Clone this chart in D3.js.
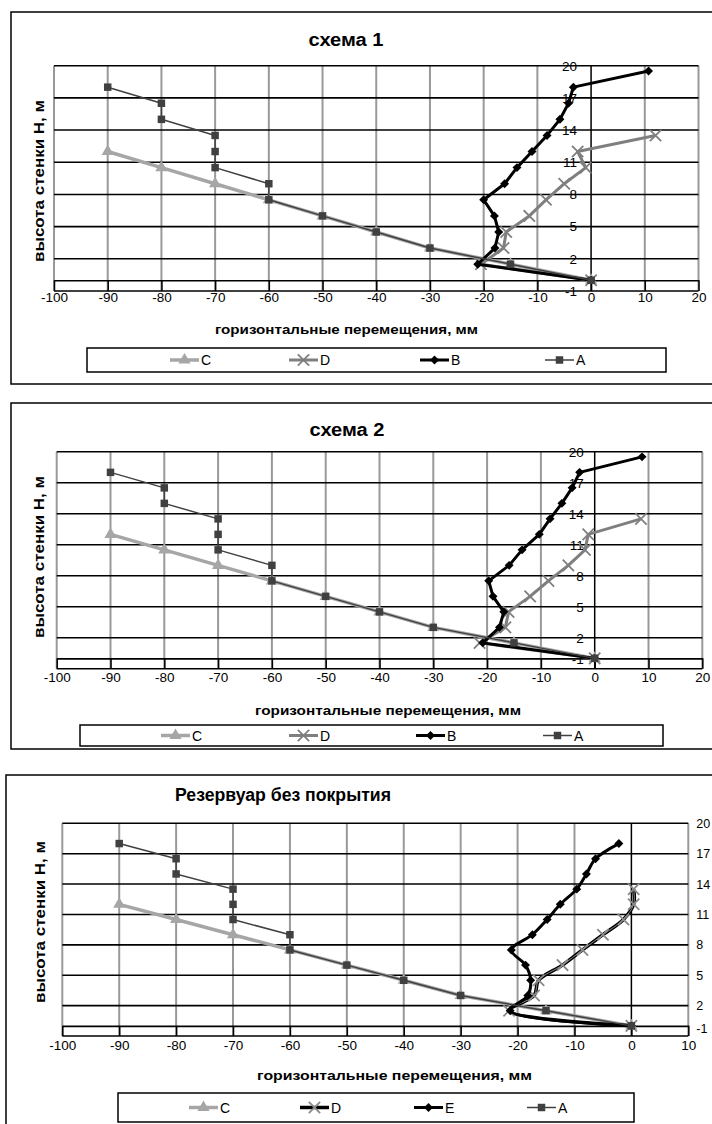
<!DOCTYPE html>
<html>
<head>
<meta charset="utf-8">
<script src="https://cdn.jsdelivr.net/npm/d3@7"></script>
<style>
    body { margin: 0; background: #fff; }
    svg { display: block; font-family: Arial, "Liberation Sans", sans-serif; }
</style>
</head>
<body>
<div id="chart"></div>
<script>
// heights along the wall, m
const heightsA = [18, 16.5, 15, 13.5, 12, 10.5, 9, 7.5, 6, 4.5, 3, 1.5, 0];
const heightsB = [19.5, 18, 16.5, 15, 13.5, 12, 10.5, 9, 7.5, 6, 4.5, 3, 1.5, 0];
const heightsC = [12, 10.5, 9, 7.5, 6, 4.5, 3, 1.5, 0];
const heightsD = [13.5, 12, 10.5, 9, 7.5, 6, 4.5, 3, 1.5, 0];
const heightsE = [18, 16.5, 15, 13.5, 12, 10.5, 9, 7.5, 6, 4.5, 3, 1.5, 0];

// horizontal displacements, mm
const dispA = [-90, -80, -80, -70, -70, -70, -60, -60, -50, -40, -30, -15, 0];
const dispC = [-90, -80, -70, -60, -50, -40, -30, -15, 0];
const dispB1 = [10.7, -3.3, -4.2, -5.8, -8.2, -11, -13.8, -16.1, -20, -18, -17.2, -17.9, -21.1, 0];
const dispD1 = [12, -2.5, -1, -5, -8.4, -11.5, -15.8, -16.3, -20.5, 0];
const dispB2 = [8.8, -2.8, -4.2, -6.1, -8.3, -10.3, -13.5, -15.9, -19.7, -18.9, -16.9, -17.7, -20.8, 0];
const dispD2 = [8.6, -1.2, -1.8, -4.9, -8.6, -12, -16, -16.6, -21.4, 0];
const dispE3 = [-2.2, -6.3, -7.9, -9.6, -12.5, -14.8, -17.4, -21.1, -18.6, -17.7, -18.2, -21.3, 0];
const dispD3 = [0.4, 0.4, -1.4, -5, -8.6, -12.1, -16.3, -17.1, -21.5, 0];

const yTicks = [-1, 2, 5, 8, 11, 14, 17, 20];
const xTicksWide = [-100, -90, -80, -70, -60, -50, -40, -30, -20, -10, 0, 10, 20];
const xTicksNarrow = [-100, -90, -80, -70, -60, -50, -40, -30, -20, -10, 0, 10];

const titles = ["схема 1", "схема 2", "Резервуар без покрытия"];
const xTitle = "горизонтальные перемещения, мм";
const yTitle = "высота стенки Н, м";

const zip = (xs, hs) => xs.map((v, i) => ({ x: v, h: hs[i] }));
const plain = d => String(d); // keep ASCII hyphen like the original

const styles = {
    C: { color: "#a6a6a6", width: 3.5, mark: "triangle" },
    D: { color: "#7f7f7f", width: 3, mark: "x" },
    B: { color: "#000", width: 3, mark: "diamond" },
    E: { color: "#000", width: 3, mark: "diamond" },
    A: { color: "#404040", width: 1.5, mark: "square" },
    D3: { color: "#000", width: 3.5, mark: "x", inner: "#8a8a8a" }
};

const charts = [
    {
        title: titles[0], titleX: 346, titleY: 46, titleLen: 75, titleAnchor: "middle",
        frame: [11, 12, 720, 384],
        left: 54, right: 698.5, top: 65.7, bottom: 291,
        xTicks: xTicksWide, xPad: 1, yLabelsRight: false, yPad: 14, yFont: 13.5, minusOneShift: 0,
        xTitleX: 346.5, xTitleY: 334, xTitleLen: 263,
        yTitleX: 39, yTitleY: 181,
        legend: [87, 348, 579, 24], legendX: [170, 289, 420, 545],
        series: [
            { name: "C", s: "C", data: zip(dispC, heightsC) },
            { name: "D", s: "D", data: zip(dispD1, heightsD) },
            { name: "B", s: "B", data: zip(dispB1, heightsB) },
            { name: "A", s: "A", data: zip(dispA, heightsA) }
        ]
    },
    {
        title: titles[1], titleX: 347, titleY: 436, titleLen: 75, titleAnchor: "middle",
        frame: [11, 403, 720, 749],
        left: 56.7, right: 702.3, top: 451.7, bottom: 668.7,
        xTicks: xTicksWide, xPad: 3.6, yLabelsRight: false, yPad: 11, yFont: 13.5, minusOneShift: -10,
        xTitleX: 388, xTitleY: 715, xTitleLen: 266,
        yTitleX: 39, yTitleY: 557,
        legend: [80, 725, 583, 21], legendX: [161, 289, 416, 543],
        series: [
            { name: "C", s: "C", data: zip(dispC, heightsC) },
            { name: "D", s: "D", data: zip(dispD2, heightsD) },
            { name: "B", s: "B", data: zip(dispB2, heightsB) },
            { name: "A", s: "A", data: zip(dispA, heightsA) }
        ]
    },
    {
        title: titles[2], titleX: 175, titleY: 801, titleLen: 216, titleAnchor: "start",
        frame: [6, 775, 720, 1140],
        left: 62.3, right: 688.3, top: 823.3, bottom: 1036,
        xTicks: xTicksNarrow, xPad: 4.3, yLabelsRight: true, yPad: 8, yFont: 12.5, minusOneShift: -8,
        xTitleX: 394.5, xTitleY: 1080, xTitleLen: 275,
        yTitleX: 40, yTitleY: 922,
        legend: [118, 1093, 516, 29], legendX: [189, 300, 414, 527],
        series: [
            { name: "C", s: "C", data: zip(dispC, heightsC) },
            { name: "D", s: "D3", data: zip(dispD3, heightsD), smooth: true },
            { name: "E", s: "E", data: zip(dispE3, heightsE), smooth: true },
            { name: "A", s: "A", data: zip(dispA, heightsA) }
        ]
    }
];

const svg = d3.select("#chart")
    .append("svg")
    .attr("width", 712)
    .attr("height", 1124);

function drawMarker(sel, st) {
    if (st.mark === "square") {
        sel.append("path").attr("d", d3.symbol(d3.symbolSquare, 56)()).attr("fill", st.color);
    } else if (st.mark === "triangle") {
        sel.append("path").attr("d", d3.symbol(d3.symbolTriangle, 64)()).attr("fill", st.color);
    } else if (st.mark === "diamond") {
        sel.append("path").attr("d", d3.symbol(d3.symbolSquare, 40)())
            .attr("transform", "rotate(45)").attr("fill", st.color);
    } else {
        sel.append("path").attr("d", d3.symbol(d3.symbolTimes, 85)())
            .attr("fill", "none").attr("stroke", st.inner || st.color).attr("stroke-width", 1.8);
    }
}

function drawChart(cfg) {
    const g = svg.append("g");
    const x = d3.scaleLinear().domain([cfg.xTicks[0], cfg.xTicks[cfg.xTicks.length - 1]]).range([cfg.left, cfg.right]);
    const y = d3.scaleLinear().domain([-1, 20]).range([cfg.bottom, cfg.top]);

    const [fx0, fy0, fx1, fy1] = cfg.frame;
    g.append("rect")
        .attr("x", fx0).attr("y", fy0)
        .attr("width", fx1 - fx0).attr("height", fy1 - fy0)
        .attr("fill", "#fff").attr("stroke", "#000").attr("stroke-width", 1.5);

    g.append("text")
        .attr("x", cfg.titleX).attr("y", cfg.titleY)
        .attr("text-anchor", cfg.titleAnchor)
        .attr("font-size", 18).attr("font-weight", "bold")
        .attr("textLength", cfg.titleLen).attr("lengthAdjust", "spacingAndGlyphs")
        .text(cfg.title);

    // vertical grid (grey), x = 0 drawn black further down
    g.append("g").selectAll("line")
        .data(cfg.xTicks)
        .join("line")
        .attr("x1", d => x(d)).attr("x2", d => x(d))
        .attr("y1", y(20)).attr("y2", y(-1))
        .attr("stroke", d => d === 0 ? "none" : "#999")
        .attr("stroke-width", 2);

    // horizontal grid (black)
    g.append("g").selectAll("line")
        .data(yTicks)
        .join("line")
        .attr("x1", x.range()[0]).attr("x2", x.range()[1])
        .attr("y1", d => y(d)).attr("y2", d => y(d))
        .attr("stroke", "#000")
        .attr("stroke-width", 1.6);

    g.append("line")
        .attr("x1", x(0)).attr("x2", x(0))
        .attr("y1", y(20)).attr("y2", y(-1))
        .attr("stroke", "#000").attr("stroke-width", 1.5);

    // x axis crossing at height 0
    const xAxis = g.append("g")
        .attr("transform", `translate(0,${y(0)})`)
        .call(d3.axisBottom(x)
            .tickValues(cfg.xTicks)
            .tickFormat(plain)
            .tickSizeInner(y(-1) - y(0))
            .tickSizeOuter(0)
            .tickPadding(cfg.xPad));
    xAxis.select(".domain").attr("stroke", "#000").attr("stroke-width", 1.6);
    xAxis.selectAll(".tick line").attr("stroke", "#000").attr("stroke-width", 1.5);
    xAxis.selectAll("text").attr("font-size", 13.5).attr("font-family", "Arial, 'Liberation Sans', sans-serif").attr("fill", "#000");

    // y axis labels
    const yAx = (cfg.yLabelsRight ? d3.axisRight(y) : d3.axisLeft(y))
        .tickValues(yTicks).tickFormat(plain).tickSize(0).tickPadding(cfg.yPad);
    const yAxis = g.append("g")
        .attr("transform", `translate(${cfg.yLabelsRight ? cfg.right : x(0)},0)`)
        .call(yAx);
    yAxis.select(".domain").remove();
    yAxis.selectAll("text").attr("font-size", cfg.yFont).attr("font-family", "Arial, 'Liberation Sans', sans-serif").attr("fill", "#000")
        .attr("y", d => d === -1 ? cfg.minusOneShift : 0);

    g.append("text")
        .attr("x", cfg.xTitleX).attr("y", cfg.xTitleY)
        .attr("text-anchor", "middle")
        .attr("font-size", 13).attr("font-weight", "bold")
        .attr("textLength", cfg.xTitleLen).attr("lengthAdjust", "spacingAndGlyphs")
        .text(xTitle);

    g.append("text")
        .attr("transform", `translate(${cfg.yTitleX},${cfg.yTitleY}) rotate(-90)`)
        .attr("text-anchor", "middle")
        .attr("dominant-baseline", "central")
        .attr("font-size", 14).attr("font-weight", "bold")
        .attr("textLength", 162).attr("lengthAdjust", "spacingAndGlyphs")
        .text(yTitle);

    // series
    cfg.series.forEach(sr => {
        const st = styles[sr.s];
        const line = d3.line()
            .x(d => x(d.x)).y(d => y(d.h))
            .curve(sr.smooth ? d3.curveCatmullRom.alpha(0.5) : d3.curveLinear);
        g.append("path")
            .datum(sr.data)
            .attr("d", line)
            .attr("fill", "none")
            .attr("stroke", st.color)
            .attr("stroke-width", st.width)
            .attr("stroke-linejoin", "round");
        if (st.inner) {
            g.append("path")
                .datum(sr.data)
                .attr("d", line)
                .attr("fill", "none")
                .attr("stroke", st.inner)
                .attr("stroke-width", 1);
        }
        g.append("g").selectAll("g")
            .data(sr.data)
            .join("g")
            .attr("transform", d => `translate(${x(d.x)},${y(d.h)})`)
            .each(function () { drawMarker(d3.select(this), st); });
    });

    // legend
    const [lx, ly, lw, lh] = cfg.legend;
    g.append("rect")
        .attr("x", lx).attr("y", ly).attr("width", lw).attr("height", lh)
        .attr("fill", "#fff").attr("stroke", "#000").attr("stroke-width", 1.5);
    cfg.series.forEach((sr, i) => {
        const st = styles[sr.s];
        const x0 = cfg.legendX[i];
        const cy = ly + lh / 2;
        const item = g.append("g");
        item.append("line")
            .attr("x1", x0).attr("x2", x0 + 29)
            .attr("y1", cy).attr("y2", cy)
            .attr("stroke", st.color).attr("stroke-width", st.width);
        drawMarker(item.append("g").attr("transform", `translate(${x0 + 14.5},${cy})`), st);
        item.append("text")
            .attr("x", x0 + 31).attr("y", cy + 5)
            .attr("font-size", 14)
            .text(sr.name);
    });
}

charts.forEach(drawChart);
</script>
</body>
</html>
